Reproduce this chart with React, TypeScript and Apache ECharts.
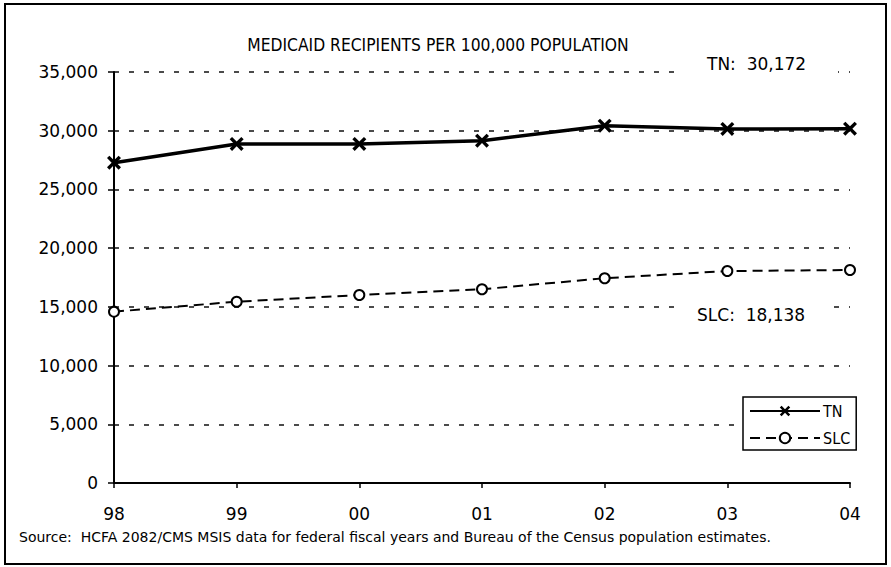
import React, { useEffect, useRef } from "react";
import * as echarts from "echarts";

const categories = ["98", "99", "00", "01", "02", "03", "04"];
const tnValues = [27280, 28870, 28870, 29150, 30430, 30150, 30172];
const slcValues = [14590, 15440, 16010, 16500, 17440, 18050, 18138];
const yMin = 0;
const yMax = 35000;
const yInterval = 5000;
const titleText = "MEDICAID RECIPIENTS PER 100,000 POPULATION";
const tnNote = "TN:\u00a0\u00a030,172";
const slcNote = "SLC:\u00a0\u00a018,138";
const sourceText =
  "Source:\u00a0\u00a0HCFA 2082/CMS MSIS data for federal fiscal years and Bureau of the Census population estimates.";

const X_PATH =
  "path://M0,1.7L1.7,0L5,3.3L8.3,0L10,1.7L6.7,5L10,8.3L8.3,10L5,6.7L1.7,10L0,8.3L3.3,5Z";

export default function App() {
  const ref = useRef<HTMLDivElement>(null);
  useEffect(() => {
    if (!ref.current) return;
    const chart = echarts.init(ref.current, null, { renderer: "svg" });
    const font = "DejaVu Sans";
    chart.setOption({
      animation: false,
      backgroundColor: "#fff",
      title: {
        text: titleText,
        left: 433,
        textAlign: "center",
        top: 31,
        textStyle: {
          fontFamily: "DejaVu Sans Condensed",
          fontSize: 17.3,
          fontWeight: "normal",
          color: "#000",
        },
      },
      grid: { left: 114, right: 41, top: 72, bottom: 84 },
      legend: {
        orient: "vertical",
        left: 743,
        top: 397,
        padding: [6, 6, 4, 6],
        itemGap: 11,
        itemWidth: 70,
        itemHeight: 13,
        backgroundColor: "#fff",
        borderColor: "#000",
        borderWidth: 1.5,
        borderRadius: 0,
        textStyle: { fontFamily: "DejaVu Sans Condensed", fontSize: 16, color: "#000", padding: [0, 0, 0, -2] },
        data: ["TN", "SLC"],
      },
      xAxis: {
        type: "category",
        data: categories,
        boundaryGap: false,
        axisLine: { lineStyle: { color: "#000", width: 2 } },
        axisTick: { show: true, length: 5, lineStyle: { color: "#000", width: 1.5 } },
        axisLabel: { fontFamily: font, fontSize: 17, color: "#000", margin: 22 },
      },
      yAxis: {
        type: "value",
        min: yMin,
        max: yMax,
        interval: yInterval,
        axisLine: { show: true, lineStyle: { color: "#000", width: 2 } },
        axisTick: { show: true, length: 6, lineStyle: { color: "#000", width: 1.5 } },
        axisLabel: {
          fontFamily: font,
          fontSize: 17,
          color: "#000",
          margin: 16,
          formatter: (v: number) => v.toLocaleString("en-US"),
        },
        splitLine: {
          show: true,
          lineStyle: { color: "#111", width: 1.5, type: [5, 10] },
        },
      },
      series: [
        {
          name: "TN",
          type: "line",
          data: tnValues,
          symbol: X_PATH,
          symbolSize: 14,
          itemStyle: { color: "#000" },
          lineStyle: { color: "#000", width: 3.5 },
          z: 3,
        },
        {
          name: "SLC",
          type: "line",
          data: slcValues,
          symbol: "circle",
          symbolSize: 10,
          itemStyle: { color: "#fff", borderColor: "#000", borderWidth: 2 },
          lineStyle: { color: "#000", width: 2, type: [10, 6] },
          z: 3,
        },
      ],
      graphic: [
        {
          type: "rect",
          z: 10,
          shape: { x: 5, y: 4, width: 881, height: 560 },
          style: { fill: "none", stroke: "#000", lineWidth: 2 },
        },
        {
          type: "rect",
          z: 10,
          shape: { x: 680, y: 50, width: 158, height: 30 },
          style: { fill: "#fff" },
        },
        {
          type: "text",
          z: 11,
          x: 707,
          y: 64,
          style: {
            text: tnNote,
            fontFamily: font,
            fontSize: 17,
            fill: "#000",
            verticalAlign: "middle",
          },
        },
        {
          type: "rect",
          z: 10,
          shape: { x: 680, y: 300, width: 146, height: 30 },
          style: { fill: "#fff" },
        },
        {
          type: "text",
          z: 11,
          x: 697,
          y: 315,
          style: {
            text: slcNote,
            fontFamily: font,
            fontSize: 17,
            fill: "#000",
            verticalAlign: "middle",
          },
        },
        {
          type: "text",
          z: 11,
          x: 19,
          y: 537,
          style: {
            text: sourceText,
            fontFamily: font,
            fontSize: 14,
            fill: "#000",
            verticalAlign: "middle",
          },
        },
      ],
    });
    return () => chart.dispose();
  }, []);
  return (
    <div
      ref={ref}
      style={{ position: "absolute", left: 0, top: 0, width: 891, height: 567 }}
    />
  );
}
